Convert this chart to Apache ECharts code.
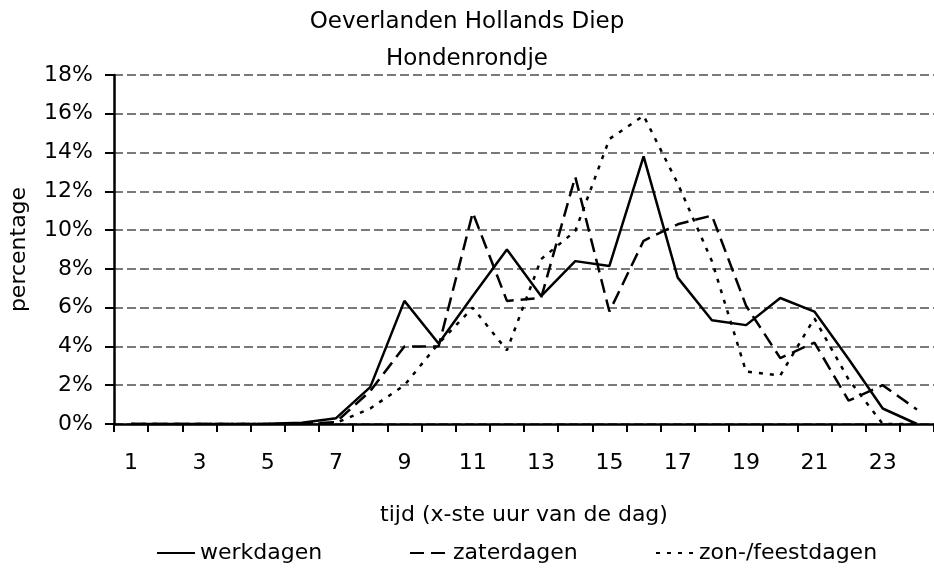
<!DOCTYPE html>
<html>
<head>
<meta charset="utf-8">
<script src="https://cdn.jsdelivr.net/npm/echarts@6/dist/echarts.min.js"></script>
<style>
    html, body { margin: 0; padding: 0; background: #fff; }
    #main { width: 934px; height: 570px; }
</style>
</head>
<body>
<div id="main"></div>
<script>
var hours = ['1', '2', '3', '4', '5', '6', '7', '8', '9', '10', '11', '12',
    '13', '14', '15', '16', '17', '18', '19', '20', '21', '22', '23', '24'];

// percentage per hour
var werkdagen = [0, 0, 0, 0, 0.01, 0.06, 0.3, 1.9, 6.35, 4.15, 6.6, 9.0,
    6.6, 8.4, 8.15, 13.8, 7.55, 5.35, 5.1, 6.5, 5.8, 3.35, 0.8, 0];
var zaterdagen = [0, 0, 0, 0, 0, 0, 0.1, 1.7, 4.0, 4.0, 10.9, 6.35,
    6.5, 12.75, 5.8, 9.45, 10.3, 10.75, 6.1, 3.4, 4.2, 1.2, 2.0, 0.75];
var zonFeestdagen = [0, 0, 0, 0, 0, 0, 0.05, 0.8, 2.0, 4.15, 6.0, 3.8,
    8.5, 9.95, 14.7, 15.9, 12.4, 8.4, 2.7, 2.5, 5.45, 2.3, 0, 0];

var font = 'DejaVu Sans';

var myChart = echarts.init(document.getElementById('main'));

function makeLegend(name, left) {
    return {
        data: [name],
        left: left,
        top: 542,
        padding: 0,
        itemWidth: 38,
        itemHeight: 14,
        // hide the round marker, keep only the line
        itemStyle: {
            color: 'rgba(0,0,0,0)',
            borderWidth: 0,
            opacity: 0
        },
        textStyle: {
            fontFamily: font,
            fontSize: 22,
            color: '#000'
        }
    };
}

function makeSeries(name, data, dash) {
    return {
        name: name,
        type: 'line',
        data: data,
        symbol: 'none',
        smooth: false,
        animation: false,
        lineStyle: {
            color: '#000',
            width: 2.5,
            type: dash
        },
        itemStyle: {
            color: '#000'
        }
    };
}

var option = {
    backgroundColor: '#fff',
    animation: false,
    title: {
        text: 'Oeverlanden Hollands Diep\nHondenrondje',
        left: 'center',
        top: 4,
        padding: 0,
        textStyle: {
            fontFamily: font,
            fontSize: 23,
            fontWeight: 'normal',
            lineHeight: 37,
            color: '#000'
        }
    },
    legend: [
        makeLegend('werkdagen', 156),
        makeLegend('zaterdagen', 409),
        makeLegend('zon-/feestdagen', 655)
    ],
    grid: {
        left: 114,
        right: -6,
        top: 75,
        bottom: 146,
        containLabel: false
    },
    xAxis: {
        type: 'category',
        data: hours,
        boundaryGap: true,
        name: 'tijd (x-ste uur van de dag)',
        nameLocation: 'middle',
        nameGap: 80,
        nameTextStyle: {
            fontFamily: font,
            fontSize: 22,
            color: '#000'
        },
        axisLine: {
            lineStyle: { color: '#000', width: 2.5 }
        },
        axisTick: {
            show: true,
            interval: 0,
            length: 8,
            lineStyle: { color: '#000', width: 2 }
        },
        axisLabel: {
            interval: 1,
            margin: 28,
            fontFamily: font,
            fontSize: 22,
            color: '#000'
        },
        splitLine: { show: false }
    },
    yAxis: {
        type: 'value',
        min: 0,
        max: 18,
        interval: 2,
        name: 'percentage',
        nameLocation: 'middle',
        nameGap: 84,
        nameRotate: 90,
        nameTextStyle: {
            fontFamily: font,
            fontSize: 22,
            color: '#000'
        },
        axisLine: {
            show: true,
            lineStyle: { color: '#000', width: 2.5 }
        },
        axisTick: {
            show: true,
            length: 9,
            lineStyle: { color: '#000', width: 2 }
        },
        axisLabel: {
            formatter: '{value}%',
            margin: 21,
            fontFamily: font,
            fontSize: 22,
            color: '#000'
        },
        splitLine: {
            show: true,
            lineStyle: {
                color: '#7a7a7a',
                width: 2,
                type: [9, 4]
            }
        }
    },
    series: [
        makeSeries('werkdagen', werkdagen, 'solid'),
        makeSeries('zaterdagen', zaterdagen, [14, 7]),
        makeSeries('zon-/feestdagen', zonFeestdagen, [4, 7])
    ]
};

myChart.setOption(option);
</script>
</body>
</html>
